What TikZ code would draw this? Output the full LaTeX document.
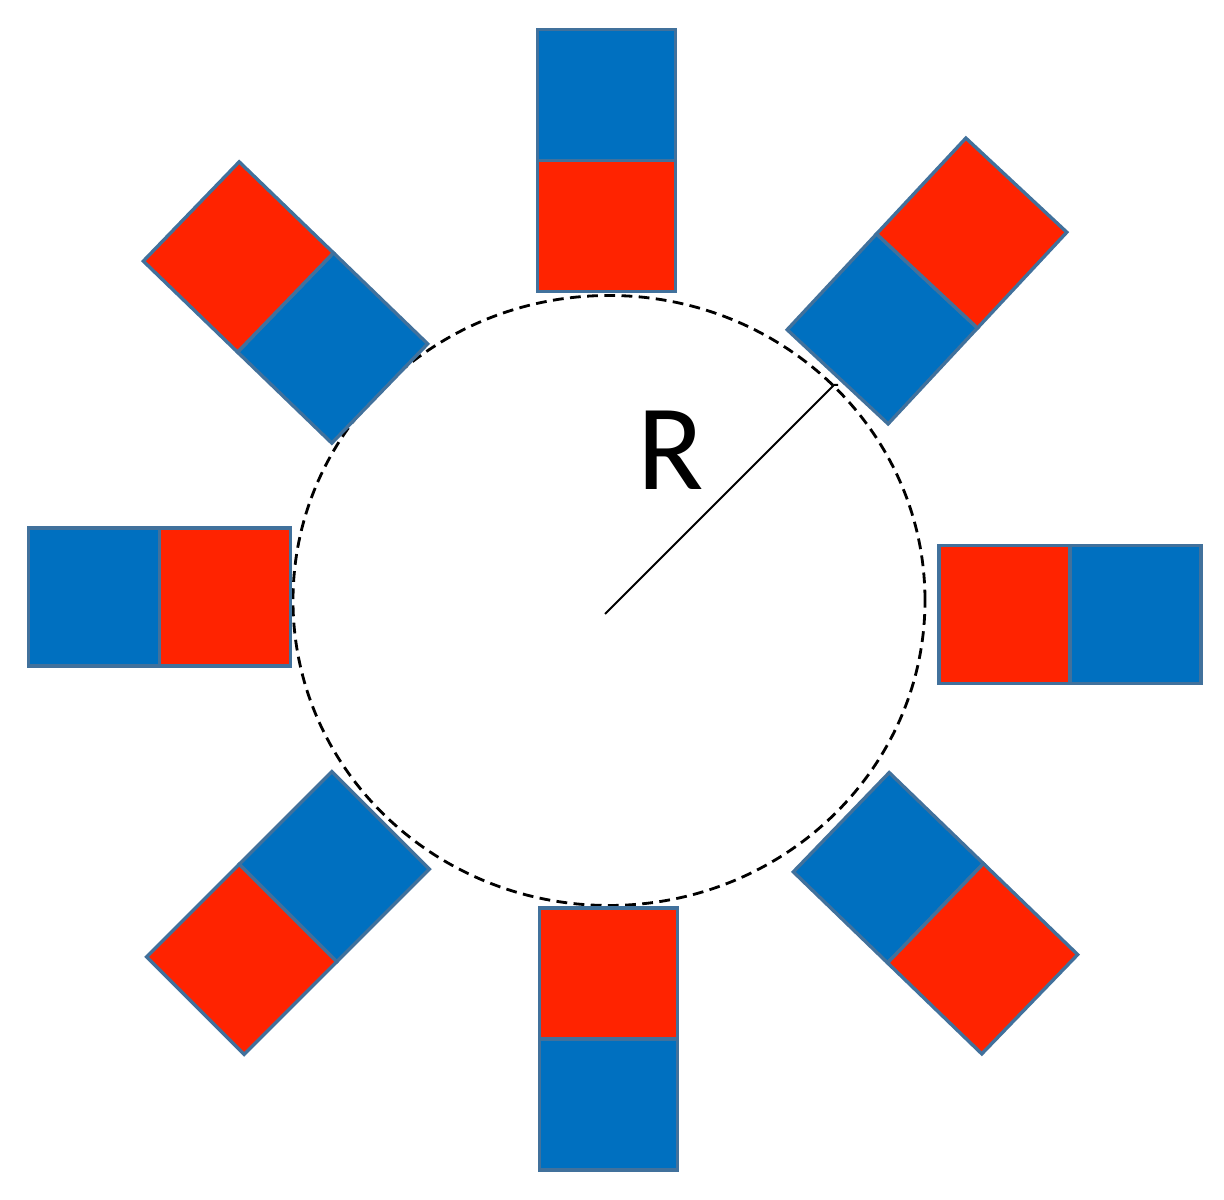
\documentclass[tikz,border=0pt]{standalone}
\usepackage{fontspec}
\setmainfont{Carlito}
\definecolor{mblue}{HTML}{0070C0}
\definecolor{mred}{HTML}{FF2300}
\definecolor{medge}{HTML}{41719C}
\tikzset{
  half/.style={draw=medge, line width=2.4pt, line join=miter},
  ring/.style={dash pattern=on 0.27cm off 0.16cm, line width=2pt},
  radius line/.style={line width=1.4pt},
}
\newcommand\magnetpair[5]{%
  \begin{scope}[shift={(#1,#2)}, rotate=#3]
    \filldraw[half, fill=#4] (-131,-69) rectangle (0,69);
    \filldraw[half, fill=#5] (0,-69) rectangle (131,69);
  \end{scope}}
\begin{document}
\begin{tikzpicture}[x=0.025cm, y=0.025cm]
  \useasboundingbox (0,0) rectangle (1224,1200);
  \fill[white] (0,0) rectangle (1224,1200);
  % dashed circle
  \coordinate (c) at (609,599.5);
  \draw[ring] (c) ellipse [x radius=316, y radius=305];
  % radius
  \coordinate (r0) at (605,586);
  \coordinate (r1) at (834,815);
  \coordinate (r2) at (838,815);
  \draw[radius line] (r0) -- (r1) -- (r2);
  \node[anchor=base, inner sep=0pt, font=\fontsize{87}{87}\selectfont] (Rlabel) at (671,710) {R};
  % magnets: center x, center y, angle, inner colour, outer colour
  \magnetpair{606.5}{1039.5}{90}{mred}{mblue}
  \magnetpair{927}{919}{47}{mblue}{mred}
  \magnetpair{1070}{585.5}{0}{mred}{mblue}
  \magnetpair{935.5}{286.75}{-44}{mblue}{mred}
  \magnetpair{608.5}{161}{-90}{mred}{mblue}
  \magnetpair{288}{287}{-135}{mblue}{mred}
  \magnetpair{159.5}{603}{180}{mred}{mblue}
  \magnetpair{285.5}{897.5}{136}{mblue}{mred}
\end{tikzpicture}
\end{document}
